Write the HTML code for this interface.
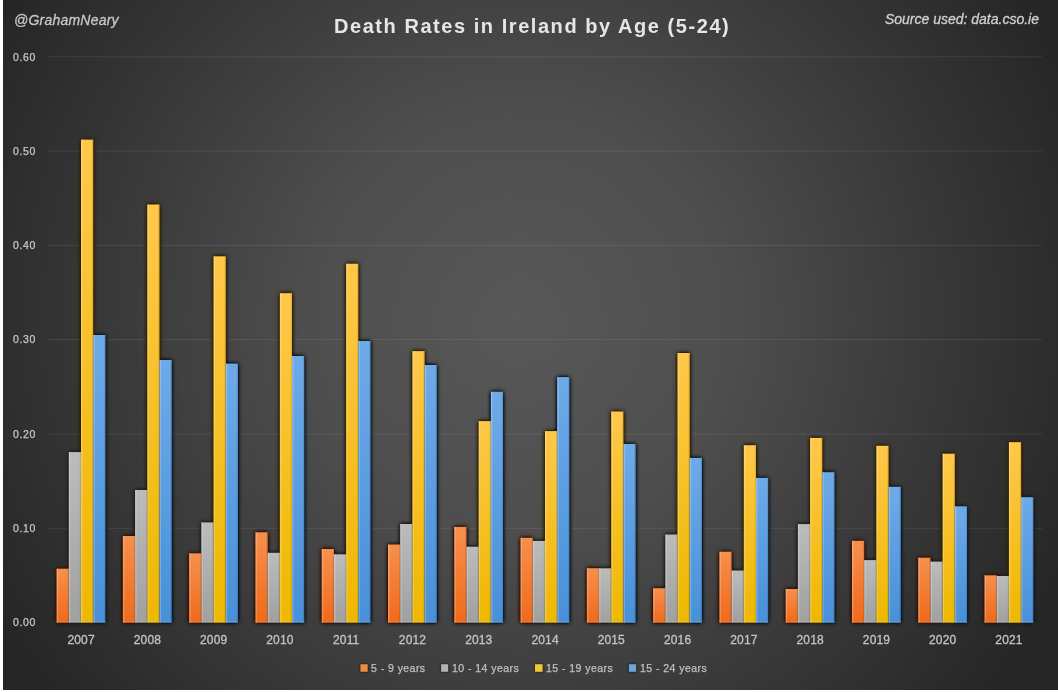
<!DOCTYPE html>
<html><head><meta charset="utf-8"><style>
html,body{margin:0;padding:0;background:#fff;}
body{width:1058px;height:692px;overflow:hidden;position:relative;}
svg{position:absolute;left:0;top:0;will-change:transform;}
text{font-family:"Liberation Sans",sans-serif;}
.ax{font-size:10.5px;fill:#c8c8c8;stroke:#c8c8c8;stroke-width:0.25px;letter-spacing:0.6px}
.yr{font-size:12px;fill:#c4c4c4;stroke:#c4c4c4;stroke-width:0.3px;letter-spacing:0.15px}
.lg text{font-size:10.5px;fill:#c0c0c0;stroke:#c0c0c0;stroke-width:0.25px;letter-spacing:0.45px}
</style></head><body>
<svg width="1058" height="692" viewBox="0 0 1058 692">
<defs>
<radialGradient id="bg" cx="520" cy="320" r="600" gradientUnits="userSpaceOnUse">
<stop offset="0" stop-color="#585858"/>
<stop offset="0.35" stop-color="#4e4e4e"/>
<stop offset="0.7" stop-color="#383838"/>
<stop offset="1" stop-color="#262626"/>
</radialGradient>
<filter id="sh" x="-5%" y="-5%" width="110%" height="110%" color-interpolation-filters="sRGB">
<feGaussianBlur in="SourceGraphic" stdDeviation="2" result="b"/>
<feColorMatrix in="b" type="matrix" values="0.18 0 0 0 0  0 0.16 0 0 0  0 0 0.14 0 0  0 0 0 2.3 0" result="s"/>
<feMerge><feMergeNode in="s"/><feMergeNode in="SourceGraphic"/></feMerge>
</filter>
<filter id="sh2" x="-50%" y="-50%" width="200%" height="200%" color-interpolation-filters="sRGB">
<feGaussianBlur in="SourceGraphic" stdDeviation="1.3" result="b"/>
<feColorMatrix in="b" type="matrix" values="0.18 0 0 0 0  0 0.16 0 0 0  0 0 0.14 0 0  0 0 0 1.6 0" result="s"/>
<feMerge><feMergeNode in="s"/><feMergeNode in="SourceGraphic"/></feMerge>
</filter>
<linearGradient id="go" x1="0" y1="0" x2="0" y2="1"><stop offset="0" stop-color="#f6904e"/><stop offset="1" stop-color="#f06a1a"/></linearGradient>
<linearGradient id="gg" x1="0" y1="0" x2="0" y2="1"><stop offset="0" stop-color="#bcbcbc"/><stop offset="1" stop-color="#a0a0a0"/></linearGradient>
<linearGradient id="gy" x1="0" y1="0" x2="0" y2="1"><stop offset="0" stop-color="#ffc84a"/><stop offset="1" stop-color="#eeb800"/></linearGradient>
<linearGradient id="gb" x1="0" y1="0" x2="0" y2="1"><stop offset="0" stop-color="#6eaae8"/><stop offset="1" stop-color="#4890d8"/></linearGradient>
</defs>
<rect x="3" y="0" width="1055" height="690" fill="url(#bg)"/>
<text x="13" y="626.3" class="ax">0.00</text>
<line x1="47.9" x2="1042.1" y1="528.30" y2="528.30" stroke="#ffffff" stroke-opacity="0.09" stroke-width="1"/>
<text x="13" y="532.0" class="ax">0.10</text>
<line x1="47.9" x2="1042.1" y1="434.00" y2="434.00" stroke="#ffffff" stroke-opacity="0.09" stroke-width="1"/>
<text x="13" y="437.7" class="ax">0.20</text>
<line x1="47.9" x2="1042.1" y1="339.70" y2="339.70" stroke="#ffffff" stroke-opacity="0.09" stroke-width="1"/>
<text x="13" y="343.4" class="ax">0.30</text>
<line x1="47.9" x2="1042.1" y1="245.40" y2="245.40" stroke="#ffffff" stroke-opacity="0.09" stroke-width="1"/>
<text x="13" y="249.1" class="ax">0.40</text>
<line x1="47.9" x2="1042.1" y1="151.10" y2="151.10" stroke="#ffffff" stroke-opacity="0.09" stroke-width="1"/>
<text x="13" y="154.8" class="ax">0.50</text>
<line x1="47.9" x2="1042.1" y1="56.80" y2="56.80" stroke="#ffffff" stroke-opacity="0.09" stroke-width="1"/>
<text x="13" y="60.5" class="ax">0.60</text>
<text x="81.1" y="643.8" class="yr" text-anchor="middle">2007</text>
<text x="147.4" y="643.8" class="yr" text-anchor="middle">2008</text>
<text x="213.7" y="643.8" class="yr" text-anchor="middle">2009</text>
<text x="279.9" y="643.8" class="yr" text-anchor="middle">2010</text>
<text x="346.2" y="643.8" class="yr" text-anchor="middle">2011</text>
<text x="412.5" y="643.8" class="yr" text-anchor="middle">2012</text>
<text x="478.8" y="643.8" class="yr" text-anchor="middle">2013</text>
<text x="545.1" y="643.8" class="yr" text-anchor="middle">2014</text>
<text x="611.3" y="643.8" class="yr" text-anchor="middle">2015</text>
<text x="677.6" y="643.8" class="yr" text-anchor="middle">2016</text>
<text x="743.9" y="643.8" class="yr" text-anchor="middle">2017</text>
<text x="810.2" y="643.8" class="yr" text-anchor="middle">2018</text>
<text x="876.5" y="643.8" class="yr" text-anchor="middle">2019</text>
<text x="942.7" y="643.8" class="yr" text-anchor="middle">2020</text>
<text x="1009.0" y="643.8" class="yr" text-anchor="middle">2021</text>
<g filter="url(#sh)">
<rect x="56.60" y="568.70" width="12.20" height="53.90" fill="url(#go)"/>
<rect x="68.80" y="452.10" width="12.20" height="170.50" fill="url(#gg)"/>
<rect x="81.00" y="139.60" width="12.20" height="483.00" fill="url(#gy)"/>
<rect x="93.20" y="335.00" width="12.20" height="287.60" fill="url(#gb)"/>
<rect x="122.88" y="536.00" width="12.20" height="86.60" fill="url(#go)"/>
<rect x="135.08" y="490.00" width="12.20" height="132.60" fill="url(#gg)"/>
<rect x="147.28" y="204.50" width="12.20" height="418.10" fill="url(#gy)"/>
<rect x="159.48" y="360.00" width="12.20" height="262.60" fill="url(#gb)"/>
<rect x="189.16" y="553.30" width="12.20" height="69.30" fill="url(#go)"/>
<rect x="201.36" y="522.40" width="12.20" height="100.20" fill="url(#gg)"/>
<rect x="213.56" y="256.30" width="12.20" height="366.30" fill="url(#gy)"/>
<rect x="225.76" y="363.60" width="12.20" height="259.00" fill="url(#gb)"/>
<rect x="255.44" y="532.30" width="12.20" height="90.30" fill="url(#go)"/>
<rect x="267.64" y="552.80" width="12.20" height="69.80" fill="url(#gg)"/>
<rect x="279.84" y="293.20" width="12.20" height="329.40" fill="url(#gy)"/>
<rect x="292.04" y="356.00" width="12.20" height="266.60" fill="url(#gb)"/>
<rect x="321.72" y="549.00" width="12.20" height="73.60" fill="url(#go)"/>
<rect x="333.92" y="554.30" width="12.20" height="68.30" fill="url(#gg)"/>
<rect x="346.12" y="263.70" width="12.20" height="358.90" fill="url(#gy)"/>
<rect x="358.32" y="341.00" width="12.20" height="281.60" fill="url(#gb)"/>
<rect x="388.00" y="544.50" width="12.20" height="78.10" fill="url(#go)"/>
<rect x="400.20" y="524.00" width="12.20" height="98.60" fill="url(#gg)"/>
<rect x="412.40" y="351.10" width="12.20" height="271.50" fill="url(#gy)"/>
<rect x="424.60" y="365.00" width="12.20" height="257.60" fill="url(#gb)"/>
<rect x="454.28" y="526.90" width="12.20" height="95.70" fill="url(#go)"/>
<rect x="466.48" y="546.70" width="12.20" height="75.90" fill="url(#gg)"/>
<rect x="478.68" y="421.10" width="12.20" height="201.50" fill="url(#gy)"/>
<rect x="490.88" y="391.70" width="12.20" height="230.90" fill="url(#gb)"/>
<rect x="520.56" y="537.80" width="12.20" height="84.80" fill="url(#go)"/>
<rect x="532.76" y="540.90" width="12.20" height="81.70" fill="url(#gg)"/>
<rect x="544.96" y="431.10" width="12.20" height="191.50" fill="url(#gy)"/>
<rect x="557.16" y="377.10" width="12.20" height="245.50" fill="url(#gb)"/>
<rect x="586.84" y="568.20" width="12.20" height="54.40" fill="url(#go)"/>
<rect x="599.04" y="568.30" width="12.20" height="54.30" fill="url(#gg)"/>
<rect x="611.24" y="411.50" width="12.20" height="211.10" fill="url(#gy)"/>
<rect x="623.44" y="444.00" width="12.20" height="178.60" fill="url(#gb)"/>
<rect x="653.12" y="588.20" width="12.20" height="34.40" fill="url(#go)"/>
<rect x="665.32" y="534.50" width="12.20" height="88.10" fill="url(#gg)"/>
<rect x="677.52" y="353.00" width="12.20" height="269.60" fill="url(#gy)"/>
<rect x="689.72" y="457.90" width="12.20" height="164.70" fill="url(#gb)"/>
<rect x="719.40" y="551.70" width="12.20" height="70.90" fill="url(#go)"/>
<rect x="731.60" y="570.50" width="12.20" height="52.10" fill="url(#gg)"/>
<rect x="743.80" y="445.20" width="12.20" height="177.40" fill="url(#gy)"/>
<rect x="756.00" y="477.90" width="12.20" height="144.70" fill="url(#gb)"/>
<rect x="785.68" y="589.00" width="12.20" height="33.60" fill="url(#go)"/>
<rect x="797.88" y="524.10" width="12.20" height="98.50" fill="url(#gg)"/>
<rect x="810.08" y="437.90" width="12.20" height="184.70" fill="url(#gy)"/>
<rect x="822.28" y="472.20" width="12.20" height="150.40" fill="url(#gb)"/>
<rect x="851.96" y="540.80" width="12.20" height="81.80" fill="url(#go)"/>
<rect x="864.16" y="560.10" width="12.20" height="62.50" fill="url(#gg)"/>
<rect x="876.36" y="445.80" width="12.20" height="176.80" fill="url(#gy)"/>
<rect x="888.56" y="486.80" width="12.20" height="135.80" fill="url(#gb)"/>
<rect x="918.24" y="557.70" width="12.20" height="64.90" fill="url(#go)"/>
<rect x="930.44" y="561.60" width="12.20" height="61.00" fill="url(#gg)"/>
<rect x="942.64" y="453.70" width="12.20" height="168.90" fill="url(#gy)"/>
<rect x="954.84" y="506.30" width="12.20" height="116.30" fill="url(#gb)"/>
<rect x="984.52" y="575.30" width="12.20" height="47.30" fill="url(#go)"/>
<rect x="996.72" y="576.00" width="12.20" height="46.60" fill="url(#gg)"/>
<rect x="1008.92" y="442.20" width="12.20" height="180.40" fill="url(#gy)"/>
<rect x="1021.12" y="497.20" width="12.20" height="125.40" fill="url(#gb)"/>
</g>
<rect x="56.60" y="568.70" width="1.5" height="53.90" fill="#fff" fill-opacity="0.22"/><rect x="67.60" y="568.70" width="1.2" height="53.90" fill="#000" fill-opacity="0.1"/><rect x="56.60" y="621.60" width="12.20" height="1" fill="#fff" fill-opacity="0.22"/>
<rect x="68.80" y="452.10" width="1.5" height="170.50" fill="#fff" fill-opacity="0.22"/><rect x="79.80" y="452.10" width="1.2" height="170.50" fill="#000" fill-opacity="0.1"/><rect x="68.80" y="621.60" width="12.20" height="1" fill="#fff" fill-opacity="0.22"/>
<rect x="81.00" y="139.60" width="1.5" height="483.00" fill="#fff" fill-opacity="0.22"/><rect x="92.00" y="139.60" width="1.2" height="483.00" fill="#000" fill-opacity="0.1"/><rect x="81.00" y="621.60" width="12.20" height="1" fill="#fff" fill-opacity="0.22"/>
<rect x="93.20" y="335.00" width="1.5" height="287.60" fill="#fff" fill-opacity="0.22"/><rect x="104.20" y="335.00" width="1.2" height="287.60" fill="#000" fill-opacity="0.1"/><rect x="93.20" y="621.60" width="12.20" height="1" fill="#fff" fill-opacity="0.22"/>
<rect x="122.88" y="536.00" width="1.5" height="86.60" fill="#fff" fill-opacity="0.22"/><rect x="133.88" y="536.00" width="1.2" height="86.60" fill="#000" fill-opacity="0.1"/><rect x="122.88" y="621.60" width="12.20" height="1" fill="#fff" fill-opacity="0.22"/>
<rect x="135.08" y="490.00" width="1.5" height="132.60" fill="#fff" fill-opacity="0.22"/><rect x="146.08" y="490.00" width="1.2" height="132.60" fill="#000" fill-opacity="0.1"/><rect x="135.08" y="621.60" width="12.20" height="1" fill="#fff" fill-opacity="0.22"/>
<rect x="147.28" y="204.50" width="1.5" height="418.10" fill="#fff" fill-opacity="0.22"/><rect x="158.28" y="204.50" width="1.2" height="418.10" fill="#000" fill-opacity="0.1"/><rect x="147.28" y="621.60" width="12.20" height="1" fill="#fff" fill-opacity="0.22"/>
<rect x="159.48" y="360.00" width="1.5" height="262.60" fill="#fff" fill-opacity="0.22"/><rect x="170.48" y="360.00" width="1.2" height="262.60" fill="#000" fill-opacity="0.1"/><rect x="159.48" y="621.60" width="12.20" height="1" fill="#fff" fill-opacity="0.22"/>
<rect x="189.16" y="553.30" width="1.5" height="69.30" fill="#fff" fill-opacity="0.22"/><rect x="200.16" y="553.30" width="1.2" height="69.30" fill="#000" fill-opacity="0.1"/><rect x="189.16" y="621.60" width="12.20" height="1" fill="#fff" fill-opacity="0.22"/>
<rect x="201.36" y="522.40" width="1.5" height="100.20" fill="#fff" fill-opacity="0.22"/><rect x="212.36" y="522.40" width="1.2" height="100.20" fill="#000" fill-opacity="0.1"/><rect x="201.36" y="621.60" width="12.20" height="1" fill="#fff" fill-opacity="0.22"/>
<rect x="213.56" y="256.30" width="1.5" height="366.30" fill="#fff" fill-opacity="0.22"/><rect x="224.56" y="256.30" width="1.2" height="366.30" fill="#000" fill-opacity="0.1"/><rect x="213.56" y="621.60" width="12.20" height="1" fill="#fff" fill-opacity="0.22"/>
<rect x="225.76" y="363.60" width="1.5" height="259.00" fill="#fff" fill-opacity="0.22"/><rect x="236.76" y="363.60" width="1.2" height="259.00" fill="#000" fill-opacity="0.1"/><rect x="225.76" y="621.60" width="12.20" height="1" fill="#fff" fill-opacity="0.22"/>
<rect x="255.44" y="532.30" width="1.5" height="90.30" fill="#fff" fill-opacity="0.22"/><rect x="266.44" y="532.30" width="1.2" height="90.30" fill="#000" fill-opacity="0.1"/><rect x="255.44" y="621.60" width="12.20" height="1" fill="#fff" fill-opacity="0.22"/>
<rect x="267.64" y="552.80" width="1.5" height="69.80" fill="#fff" fill-opacity="0.22"/><rect x="278.64" y="552.80" width="1.2" height="69.80" fill="#000" fill-opacity="0.1"/><rect x="267.64" y="621.60" width="12.20" height="1" fill="#fff" fill-opacity="0.22"/>
<rect x="279.84" y="293.20" width="1.5" height="329.40" fill="#fff" fill-opacity="0.22"/><rect x="290.84" y="293.20" width="1.2" height="329.40" fill="#000" fill-opacity="0.1"/><rect x="279.84" y="621.60" width="12.20" height="1" fill="#fff" fill-opacity="0.22"/>
<rect x="292.04" y="356.00" width="1.5" height="266.60" fill="#fff" fill-opacity="0.22"/><rect x="303.04" y="356.00" width="1.2" height="266.60" fill="#000" fill-opacity="0.1"/><rect x="292.04" y="621.60" width="12.20" height="1" fill="#fff" fill-opacity="0.22"/>
<rect x="321.72" y="549.00" width="1.5" height="73.60" fill="#fff" fill-opacity="0.22"/><rect x="332.72" y="549.00" width="1.2" height="73.60" fill="#000" fill-opacity="0.1"/><rect x="321.72" y="621.60" width="12.20" height="1" fill="#fff" fill-opacity="0.22"/>
<rect x="333.92" y="554.30" width="1.5" height="68.30" fill="#fff" fill-opacity="0.22"/><rect x="344.92" y="554.30" width="1.2" height="68.30" fill="#000" fill-opacity="0.1"/><rect x="333.92" y="621.60" width="12.20" height="1" fill="#fff" fill-opacity="0.22"/>
<rect x="346.12" y="263.70" width="1.5" height="358.90" fill="#fff" fill-opacity="0.22"/><rect x="357.12" y="263.70" width="1.2" height="358.90" fill="#000" fill-opacity="0.1"/><rect x="346.12" y="621.60" width="12.20" height="1" fill="#fff" fill-opacity="0.22"/>
<rect x="358.32" y="341.00" width="1.5" height="281.60" fill="#fff" fill-opacity="0.22"/><rect x="369.32" y="341.00" width="1.2" height="281.60" fill="#000" fill-opacity="0.1"/><rect x="358.32" y="621.60" width="12.20" height="1" fill="#fff" fill-opacity="0.22"/>
<rect x="388.00" y="544.50" width="1.5" height="78.10" fill="#fff" fill-opacity="0.22"/><rect x="399.00" y="544.50" width="1.2" height="78.10" fill="#000" fill-opacity="0.1"/><rect x="388.00" y="621.60" width="12.20" height="1" fill="#fff" fill-opacity="0.22"/>
<rect x="400.20" y="524.00" width="1.5" height="98.60" fill="#fff" fill-opacity="0.22"/><rect x="411.20" y="524.00" width="1.2" height="98.60" fill="#000" fill-opacity="0.1"/><rect x="400.20" y="621.60" width="12.20" height="1" fill="#fff" fill-opacity="0.22"/>
<rect x="412.40" y="351.10" width="1.5" height="271.50" fill="#fff" fill-opacity="0.22"/><rect x="423.40" y="351.10" width="1.2" height="271.50" fill="#000" fill-opacity="0.1"/><rect x="412.40" y="621.60" width="12.20" height="1" fill="#fff" fill-opacity="0.22"/>
<rect x="424.60" y="365.00" width="1.5" height="257.60" fill="#fff" fill-opacity="0.22"/><rect x="435.60" y="365.00" width="1.2" height="257.60" fill="#000" fill-opacity="0.1"/><rect x="424.60" y="621.60" width="12.20" height="1" fill="#fff" fill-opacity="0.22"/>
<rect x="454.28" y="526.90" width="1.5" height="95.70" fill="#fff" fill-opacity="0.22"/><rect x="465.28" y="526.90" width="1.2" height="95.70" fill="#000" fill-opacity="0.1"/><rect x="454.28" y="621.60" width="12.20" height="1" fill="#fff" fill-opacity="0.22"/>
<rect x="466.48" y="546.70" width="1.5" height="75.90" fill="#fff" fill-opacity="0.22"/><rect x="477.48" y="546.70" width="1.2" height="75.90" fill="#000" fill-opacity="0.1"/><rect x="466.48" y="621.60" width="12.20" height="1" fill="#fff" fill-opacity="0.22"/>
<rect x="478.68" y="421.10" width="1.5" height="201.50" fill="#fff" fill-opacity="0.22"/><rect x="489.68" y="421.10" width="1.2" height="201.50" fill="#000" fill-opacity="0.1"/><rect x="478.68" y="621.60" width="12.20" height="1" fill="#fff" fill-opacity="0.22"/>
<rect x="490.88" y="391.70" width="1.5" height="230.90" fill="#fff" fill-opacity="0.22"/><rect x="501.88" y="391.70" width="1.2" height="230.90" fill="#000" fill-opacity="0.1"/><rect x="490.88" y="621.60" width="12.20" height="1" fill="#fff" fill-opacity="0.22"/>
<rect x="520.56" y="537.80" width="1.5" height="84.80" fill="#fff" fill-opacity="0.22"/><rect x="531.56" y="537.80" width="1.2" height="84.80" fill="#000" fill-opacity="0.1"/><rect x="520.56" y="621.60" width="12.20" height="1" fill="#fff" fill-opacity="0.22"/>
<rect x="532.76" y="540.90" width="1.5" height="81.70" fill="#fff" fill-opacity="0.22"/><rect x="543.76" y="540.90" width="1.2" height="81.70" fill="#000" fill-opacity="0.1"/><rect x="532.76" y="621.60" width="12.20" height="1" fill="#fff" fill-opacity="0.22"/>
<rect x="544.96" y="431.10" width="1.5" height="191.50" fill="#fff" fill-opacity="0.22"/><rect x="555.96" y="431.10" width="1.2" height="191.50" fill="#000" fill-opacity="0.1"/><rect x="544.96" y="621.60" width="12.20" height="1" fill="#fff" fill-opacity="0.22"/>
<rect x="557.16" y="377.10" width="1.5" height="245.50" fill="#fff" fill-opacity="0.22"/><rect x="568.16" y="377.10" width="1.2" height="245.50" fill="#000" fill-opacity="0.1"/><rect x="557.16" y="621.60" width="12.20" height="1" fill="#fff" fill-opacity="0.22"/>
<rect x="586.84" y="568.20" width="1.5" height="54.40" fill="#fff" fill-opacity="0.22"/><rect x="597.84" y="568.20" width="1.2" height="54.40" fill="#000" fill-opacity="0.1"/><rect x="586.84" y="621.60" width="12.20" height="1" fill="#fff" fill-opacity="0.22"/>
<rect x="599.04" y="568.30" width="1.5" height="54.30" fill="#fff" fill-opacity="0.22"/><rect x="610.04" y="568.30" width="1.2" height="54.30" fill="#000" fill-opacity="0.1"/><rect x="599.04" y="621.60" width="12.20" height="1" fill="#fff" fill-opacity="0.22"/>
<rect x="611.24" y="411.50" width="1.5" height="211.10" fill="#fff" fill-opacity="0.22"/><rect x="622.24" y="411.50" width="1.2" height="211.10" fill="#000" fill-opacity="0.1"/><rect x="611.24" y="621.60" width="12.20" height="1" fill="#fff" fill-opacity="0.22"/>
<rect x="623.44" y="444.00" width="1.5" height="178.60" fill="#fff" fill-opacity="0.22"/><rect x="634.44" y="444.00" width="1.2" height="178.60" fill="#000" fill-opacity="0.1"/><rect x="623.44" y="621.60" width="12.20" height="1" fill="#fff" fill-opacity="0.22"/>
<rect x="653.12" y="588.20" width="1.5" height="34.40" fill="#fff" fill-opacity="0.22"/><rect x="664.12" y="588.20" width="1.2" height="34.40" fill="#000" fill-opacity="0.1"/><rect x="653.12" y="621.60" width="12.20" height="1" fill="#fff" fill-opacity="0.22"/>
<rect x="665.32" y="534.50" width="1.5" height="88.10" fill="#fff" fill-opacity="0.22"/><rect x="676.32" y="534.50" width="1.2" height="88.10" fill="#000" fill-opacity="0.1"/><rect x="665.32" y="621.60" width="12.20" height="1" fill="#fff" fill-opacity="0.22"/>
<rect x="677.52" y="353.00" width="1.5" height="269.60" fill="#fff" fill-opacity="0.22"/><rect x="688.52" y="353.00" width="1.2" height="269.60" fill="#000" fill-opacity="0.1"/><rect x="677.52" y="621.60" width="12.20" height="1" fill="#fff" fill-opacity="0.22"/>
<rect x="689.72" y="457.90" width="1.5" height="164.70" fill="#fff" fill-opacity="0.22"/><rect x="700.72" y="457.90" width="1.2" height="164.70" fill="#000" fill-opacity="0.1"/><rect x="689.72" y="621.60" width="12.20" height="1" fill="#fff" fill-opacity="0.22"/>
<rect x="719.40" y="551.70" width="1.5" height="70.90" fill="#fff" fill-opacity="0.22"/><rect x="730.40" y="551.70" width="1.2" height="70.90" fill="#000" fill-opacity="0.1"/><rect x="719.40" y="621.60" width="12.20" height="1" fill="#fff" fill-opacity="0.22"/>
<rect x="731.60" y="570.50" width="1.5" height="52.10" fill="#fff" fill-opacity="0.22"/><rect x="742.60" y="570.50" width="1.2" height="52.10" fill="#000" fill-opacity="0.1"/><rect x="731.60" y="621.60" width="12.20" height="1" fill="#fff" fill-opacity="0.22"/>
<rect x="743.80" y="445.20" width="1.5" height="177.40" fill="#fff" fill-opacity="0.22"/><rect x="754.80" y="445.20" width="1.2" height="177.40" fill="#000" fill-opacity="0.1"/><rect x="743.80" y="621.60" width="12.20" height="1" fill="#fff" fill-opacity="0.22"/>
<rect x="756.00" y="477.90" width="1.5" height="144.70" fill="#fff" fill-opacity="0.22"/><rect x="767.00" y="477.90" width="1.2" height="144.70" fill="#000" fill-opacity="0.1"/><rect x="756.00" y="621.60" width="12.20" height="1" fill="#fff" fill-opacity="0.22"/>
<rect x="785.68" y="589.00" width="1.5" height="33.60" fill="#fff" fill-opacity="0.22"/><rect x="796.68" y="589.00" width="1.2" height="33.60" fill="#000" fill-opacity="0.1"/><rect x="785.68" y="621.60" width="12.20" height="1" fill="#fff" fill-opacity="0.22"/>
<rect x="797.88" y="524.10" width="1.5" height="98.50" fill="#fff" fill-opacity="0.22"/><rect x="808.88" y="524.10" width="1.2" height="98.50" fill="#000" fill-opacity="0.1"/><rect x="797.88" y="621.60" width="12.20" height="1" fill="#fff" fill-opacity="0.22"/>
<rect x="810.08" y="437.90" width="1.5" height="184.70" fill="#fff" fill-opacity="0.22"/><rect x="821.08" y="437.90" width="1.2" height="184.70" fill="#000" fill-opacity="0.1"/><rect x="810.08" y="621.60" width="12.20" height="1" fill="#fff" fill-opacity="0.22"/>
<rect x="822.28" y="472.20" width="1.5" height="150.40" fill="#fff" fill-opacity="0.22"/><rect x="833.28" y="472.20" width="1.2" height="150.40" fill="#000" fill-opacity="0.1"/><rect x="822.28" y="621.60" width="12.20" height="1" fill="#fff" fill-opacity="0.22"/>
<rect x="851.96" y="540.80" width="1.5" height="81.80" fill="#fff" fill-opacity="0.22"/><rect x="862.96" y="540.80" width="1.2" height="81.80" fill="#000" fill-opacity="0.1"/><rect x="851.96" y="621.60" width="12.20" height="1" fill="#fff" fill-opacity="0.22"/>
<rect x="864.16" y="560.10" width="1.5" height="62.50" fill="#fff" fill-opacity="0.22"/><rect x="875.16" y="560.10" width="1.2" height="62.50" fill="#000" fill-opacity="0.1"/><rect x="864.16" y="621.60" width="12.20" height="1" fill="#fff" fill-opacity="0.22"/>
<rect x="876.36" y="445.80" width="1.5" height="176.80" fill="#fff" fill-opacity="0.22"/><rect x="887.36" y="445.80" width="1.2" height="176.80" fill="#000" fill-opacity="0.1"/><rect x="876.36" y="621.60" width="12.20" height="1" fill="#fff" fill-opacity="0.22"/>
<rect x="888.56" y="486.80" width="1.5" height="135.80" fill="#fff" fill-opacity="0.22"/><rect x="899.56" y="486.80" width="1.2" height="135.80" fill="#000" fill-opacity="0.1"/><rect x="888.56" y="621.60" width="12.20" height="1" fill="#fff" fill-opacity="0.22"/>
<rect x="918.24" y="557.70" width="1.5" height="64.90" fill="#fff" fill-opacity="0.22"/><rect x="929.24" y="557.70" width="1.2" height="64.90" fill="#000" fill-opacity="0.1"/><rect x="918.24" y="621.60" width="12.20" height="1" fill="#fff" fill-opacity="0.22"/>
<rect x="930.44" y="561.60" width="1.5" height="61.00" fill="#fff" fill-opacity="0.22"/><rect x="941.44" y="561.60" width="1.2" height="61.00" fill="#000" fill-opacity="0.1"/><rect x="930.44" y="621.60" width="12.20" height="1" fill="#fff" fill-opacity="0.22"/>
<rect x="942.64" y="453.70" width="1.5" height="168.90" fill="#fff" fill-opacity="0.22"/><rect x="953.64" y="453.70" width="1.2" height="168.90" fill="#000" fill-opacity="0.1"/><rect x="942.64" y="621.60" width="12.20" height="1" fill="#fff" fill-opacity="0.22"/>
<rect x="954.84" y="506.30" width="1.5" height="116.30" fill="#fff" fill-opacity="0.22"/><rect x="965.84" y="506.30" width="1.2" height="116.30" fill="#000" fill-opacity="0.1"/><rect x="954.84" y="621.60" width="12.20" height="1" fill="#fff" fill-opacity="0.22"/>
<rect x="984.52" y="575.30" width="1.5" height="47.30" fill="#fff" fill-opacity="0.22"/><rect x="995.52" y="575.30" width="1.2" height="47.30" fill="#000" fill-opacity="0.1"/><rect x="984.52" y="621.60" width="12.20" height="1" fill="#fff" fill-opacity="0.22"/>
<rect x="996.72" y="576.00" width="1.5" height="46.60" fill="#fff" fill-opacity="0.22"/><rect x="1007.72" y="576.00" width="1.2" height="46.60" fill="#000" fill-opacity="0.1"/><rect x="996.72" y="621.60" width="12.20" height="1" fill="#fff" fill-opacity="0.22"/>
<rect x="1008.92" y="442.20" width="1.5" height="180.40" fill="#fff" fill-opacity="0.22"/><rect x="1019.92" y="442.20" width="1.2" height="180.40" fill="#000" fill-opacity="0.1"/><rect x="1008.92" y="621.60" width="12.20" height="1" fill="#fff" fill-opacity="0.22"/>
<rect x="1021.12" y="497.20" width="1.5" height="125.40" fill="#fff" fill-opacity="0.22"/><rect x="1032.12" y="497.20" width="1.2" height="125.40" fill="#000" fill-opacity="0.1"/><rect x="1021.12" y="621.60" width="12.20" height="1" fill="#fff" fill-opacity="0.22"/>
<text x="14" y="25" style="font-size:14px;font-style:italic;fill:#c8c8c8;stroke:#c8c8c8;stroke-width:0.3px;letter-spacing:0.22px">@GrahamNeary</text>
<text x="1039" y="24.2" text-anchor="end" style="font-size:14px;font-style:italic;fill:#d0d0d0;stroke:#d0d0d0;stroke-width:0.3px;letter-spacing:0px">Source used: data.cso.ie</text>
<text x="334" y="32.5" style="font-size:20px;font-weight:bold;fill:#e6e6e6;letter-spacing:1.55px">Death Rates in Ireland by Age (5-24)</text>
<g class="lg">
<rect x="360.4" y="664.2" width="7.3" height="7.6" fill="#ec8c4a" filter="url(#sh2)"/><text x="371" y="671.6">5 - 9 years</text>
<rect x="441.1" y="664.2" width="7.1" height="7.6" fill="#b2b2b2" filter="url(#sh2)"/><text x="452" y="671.6">10 - 14 years</text>
<rect x="535.0" y="664.2" width="7.6" height="7.6" fill="#ecc93c" filter="url(#sh2)"/><text x="546" y="671.6">15 - 19 years</text>
<rect x="628.9" y="664.2" width="7.2" height="7.6" fill="#6ea6dc" filter="url(#sh2)"/><text x="640" y="671.6">15 - 24 years</text>
</g>
</svg>
</body></html>
